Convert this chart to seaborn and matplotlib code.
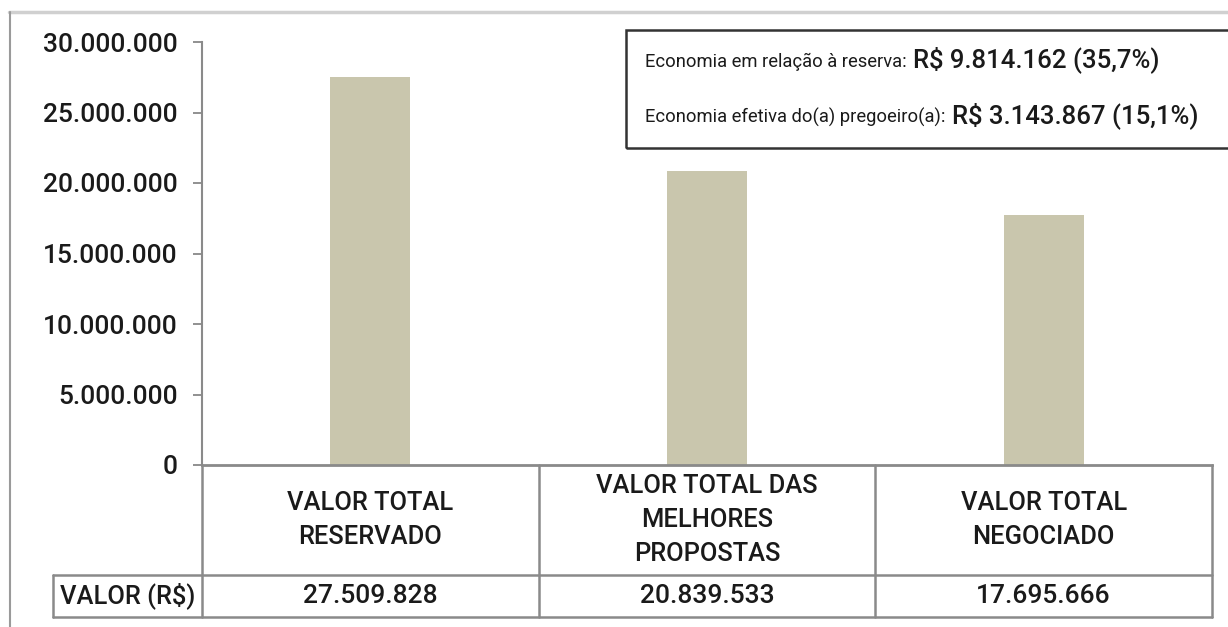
import matplotlib
matplotlib.use("Agg")
import matplotlib.pyplot as plt
import matplotlib.font_manager as fm
from matplotlib.lines import Line2D
from matplotlib.patches import Rectangle
import seaborn as sns
import pandas as pd

# Data
categories = ["VALOR TOTAL\nRESERVADO", "VALOR TOTAL DAS\nMELHORES\nPROPOSTAS", "VALOR TOTAL\nNEGOCIADO"]
values = [27509828, 20839533, 17695666]
row_label = "VALOR (R$)"
yticks = [0, 5000000, 10000000, 15000000, 20000000, 25000000, 30000000]
note_labels = ["Economia em relação à reserva:", "Economia efetiva do(a) pregoeiro(a):"]
note_values = ["R$ 9.814.162 (35,7%)", "R$ 3.143.867 (15,1%)"]


def br(v):
    return f"{v:,.0f}".replace(",", ".")


df = pd.DataFrame({"cat": categories, "valor": values})

sns.set_theme(style="white")
plt.rcParams["font.family"] = ["Roboto", "DejaVu Sans"]
fonts = fm.fontManager.ttflist
names = {f.name for f in fonts}
narrow = "Liberation Sans Narrow" if "Liberation Sans Narrow" in names else "Roboto"
# a touch heavier than regular if Roboto Medium is there
has_medium = any(f.name == "Roboto" and f.weight == 500 for f in fonts)
wt = 500 if has_medium else "normal"

W, H = 1228, 627
fig = plt.figure(figsize=(W / 100, H / 100), dpi=100)
fig.patch.set_facecolor("white")
txt = "#1a1a1a"


def fx(px):
    return px / W


def fy(py):
    return 1 - py / H


ax = fig.add_axes([fx(202), fy(465), fx(1212) - fx(202), fy(42) - fy(465)])
sns.barplot(data=df, x="cat", y="valor", color="#C9C6AD", width=0.237,
            saturation=1, ax=ax, edgecolor="none")
ax.set_xlim(-0.5, 2.5)
ax.set_ylim(0, 30000000)
ax.set_yticks(yticks)
ax.set_yticklabels([br(v) for v in yticks], fontsize=19, color=txt, fontweight=wt)
ax.set_xticks([])
ax.set_xlabel("")
ax.set_ylabel("")
ax.tick_params(axis="y", direction="out", length=6.5, width=1.3, color="#888888",
               pad=11, left=True)
for s in ["top", "right"]:
    ax.spines[s].set_visible(False)
ax.spines["left"].set_color("#8a8a8a")
ax.spines["left"].set_linewidth(1.5)
ax.spines["bottom"].set_color("#8a8a8a")
ax.spines["bottom"].set_linewidth(2)

# Table under the bars
tr = ax.get_xaxis_transform()
gray = "#8a8a8a"
y_head = -0.26
y_bot = -0.359
left_cell = -0.9425
for xb in [-0.5, 0.5, 1.5, 2.5]:
    ax.add_line(Line2D([xb, xb], [0, y_bot], transform=tr, color=gray, lw=1.8, clip_on=False))
ax.add_line(Line2D([left_cell, 2.5], [y_head, y_head], transform=tr, color=gray, lw=1.8, clip_on=False))
ax.add_line(Line2D([left_cell, 2.5], [y_bot, y_bot], transform=tr, color=gray, lw=1.8, clip_on=False))
ax.add_line(Line2D([left_cell, left_cell], [y_head, y_bot], transform=tr, color=gray, lw=1.8, clip_on=False))

for i, (c, v) in enumerate(zip(categories, values)):
    ax.text(i, y_head / 2, c, transform=tr, ha="center", va="center", fontsize=18.4,
            color=txt, linespacing=1.52, fontweight=wt)
    ax.text(i, (y_head + y_bot) / 2, br(v), transform=tr, ha="center", va="center",
            fontsize=19, color=txt, fontweight=wt)
ax.text((left_cell - 0.5) / 2, (y_head + y_bot) / 2, row_label, transform=tr,
        ha="center", va="center", fontsize=18.4, color=txt, fontweight=wt)

# Outer frame (light top rule, left rule)
fig.add_artist(Line2D([fx(9), fx(1228)], [fy(12), fy(12)], color="#d0d0d0", lw=2.5))
fig.add_artist(Line2D([fx(9.5), fx(9.5)], [fy(12), fy(627)], color="#9a9a9a", lw=1.5))

# Note box
fig.add_artist(Rectangle((fx(626), fy(148)), fx(1240) - fx(626), fy(30) - fy(148),
                         transform=fig.transFigure, fill=False, edgecolor="#333333",
                         lw=1.8, clip_on=False))
fig.canvas.draw()
renderer = fig.canvas.get_renderer()
for lab, val, base in zip(note_labels, note_values, [67, 123]):
    t = fig.text(fx(645), fy(base), lab, family=[narrow, "DejaVu Sans"], fontsize=13.2,
                 color=txt, ha="left", va="baseline")
    ext = t.get_window_extent(renderer)
    fig.text(fx(ext.x1 + 6), fy(base), val, fontsize=18.5, color=txt,
             ha="left", va="baseline", fontweight=wt)

fig.savefig("out.png", dpi=100, facecolor="white")
